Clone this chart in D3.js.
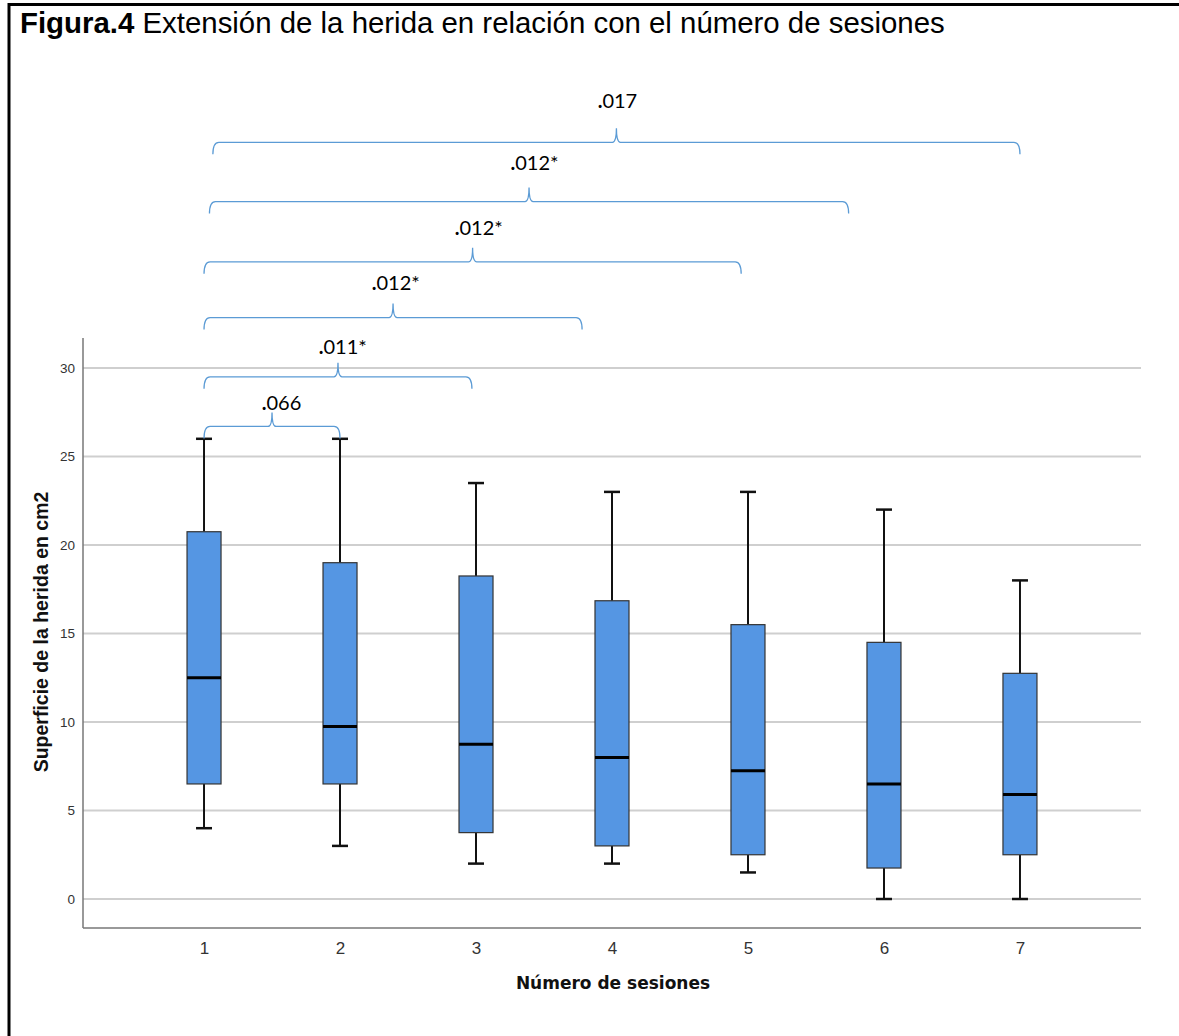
<!DOCTYPE html>
<html>
<head>
<meta charset="utf-8">
<script src="https://cdn.jsdelivr.net/npm/d3@7"></script>
<style>
  body { margin: 0; background: #fff; }
  svg { display: block; }
</style>
</head>
<body>
<div id="chart"></div>
<script>
// Data
const sessions = ["1", "2", "3", "4", "5", "6", "7"];
const whiskerLow = [4, 3, 2, 2, 1.5, 0, 0];
const q1 = [6.5, 6.5, 3.75, 3, 2.5, 1.75, 2.5];
const median = [12.5, 9.75, 8.75, 8, 7.25, 6.5, 5.9];
const q3 = [20.75, 19, 18.25, 16.85, 15.5, 14.5, 12.75];
const whiskerHigh = [26, 26, 23.5, 23, 23, 22, 18];
const yTicks = [0, 5, 10, 15, 20, 25, 30];

// Pairwise comparison brackets (start/end in session units, levels in cm2 units)
const bracketFrom = [1, 1, 1, 1, 1.04, 1.065];
const bracketTo = [2, 2.97, 3.78, 4.95, 5.74, 7];
const bracketLevel = [26.7, 29.5, 32.85, 36.0, 39.4, 42.75];
const bracketLabelAt = [1.57, 2.02, 2.41, 3.02, 3.43, 4.04];
const bracketLabelLevel = [27.6, 30.8, 34.4, 37.5, 41.2, 44.7];
const bracketLabels = [".066", ".011*", ".012*", ".012*", ".012*", ".017"];

const width = 1179, height = 1036;
const plot = { left: 83, right: 1141, top: 338, bottom: 928 };

const svg = d3.select("#chart").append("svg")
  .attr("width", width)
  .attr("height", height);

// Frame (left and top rules of the figure box)
svg.append("line").attr("x1", 9).attr("x2", 9).attr("y1", 3).attr("y2", height)
  .attr("stroke", "#000").attr("stroke-width", 3);
svg.append("line").attr("x1", 8).attr("x2", width).attr("y1", 4.5).attr("y2", 4.5)
  .attr("stroke", "#000").attr("stroke-width", 3);

// Title
const title = svg.append("text")
  .attr("x", 20).attr("y", 33)
  .style("font-family", "Liberation Sans, Arial, sans-serif")
  .style("font-size", "29.4px")
  .attr("fill", "#000");
title.append("tspan").style("font-weight", "bold").text("Figura.4");
title.append("tspan").text(" Extensión de la herida en relación con el número de sesiones");

// Scales
const x = d3.scalePoint()
  .domain(sessions)
  .range([plot.left, plot.right])
  .padding(0.89);

const xNum = d3.scaleLinear()
  .domain([1, 7])
  .range([x("1"), x("7")]);

const y = d3.scaleLinear()
  .domain([0, 30])
  .range([899, 368]);

// Gridlines
svg.append("g")
  .selectAll("line")
  .data(yTicks)
  .join("line")
  .attr("x1", plot.left).attr("x2", plot.right)
  .attr("y1", d => y(d)).attr("y2", d => y(d))
  .attr("stroke", "#cfcfcf")
  .attr("stroke-width", 2);

// Y axis
const yAxis = svg.append("g")
  .attr("transform", `translate(${plot.left},0)`)
  .call(d3.axisLeft(y).tickValues(yTicks).tickSize(0).tickPadding(8));
yAxis.select(".domain").remove();
yAxis.selectAll("text")
  .style("font-family", "Liberation Sans, Arial, sans-serif")
  .style("font-size", "13.5px")
  .attr("fill", "#333");

svg.append("line")
  .attr("x1", plot.left).attr("x2", plot.left)
  .attr("y1", plot.top).attr("y2", plot.bottom)
  .attr("stroke", "#777").attr("stroke-width", 1.5);

// X axis
const xAxis = svg.append("g")
  .attr("transform", `translate(0,${plot.bottom})`)
  .call(d3.axisBottom(x).tickSize(0).tickPadding(14));
xAxis.select(".domain").remove();
xAxis.selectAll("text")
  .style("font-family", "Liberation Sans, Arial, sans-serif")
  .style("font-size", "17px")
  .attr("fill", "#333");

svg.append("line")
  .attr("x1", plot.left).attr("x2", plot.right)
  .attr("y1", plot.bottom).attr("y2", plot.bottom)
  .attr("stroke", "#777").attr("stroke-width", 1.5);

// Axis titles
svg.append("text")
  .attr("transform", `translate(48,632) rotate(-90)`)
  .attr("text-anchor", "middle")
  .style("font-family", "Liberation Sans, Arial, sans-serif")
  .style("font-size", "19.5px")
  .style("font-weight", "bold")
  .attr("fill", "#111")
  .text("Superficie de la herida en cm2");

svg.append("text")
  .attr("x", 613).attr("y", 989)
  .attr("text-anchor", "middle")
  .style("font-family", "DejaVu Sans, sans-serif")
  .style("font-size", "17px")
  .style("font-weight", "bold")
  .attr("fill", "#111")
  .text("Número de sesiones");

// Boxes
const boxW = 34, capW = 16;
const boxes = svg.append("g")
  .selectAll("g")
  .data(sessions.map((s, i) => ({ s, lo: whiskerLow[i], q1: q1[i], med: median[i], q3: q3[i], hi: whiskerHigh[i] })))
  .join("g")
  .attr("transform", d => `translate(${x(d.s)},0)`);

boxes.append("line")
  .attr("y1", d => y(d.hi)).attr("y2", d => y(d.q3))
  .attr("stroke", "#111").attr("stroke-width", 2);
boxes.append("line")
  .attr("y1", d => y(d.q1)).attr("y2", d => y(d.lo))
  .attr("stroke", "#111").attr("stroke-width", 2);
boxes.append("line")
  .attr("x1", -capW / 2).attr("x2", capW / 2)
  .attr("y1", d => y(d.hi)).attr("y2", d => y(d.hi))
  .attr("stroke", "#111").attr("stroke-width", 2.5);
boxes.append("line")
  .attr("x1", -capW / 2).attr("x2", capW / 2)
  .attr("y1", d => y(d.lo)).attr("y2", d => y(d.lo))
  .attr("stroke", "#111").attr("stroke-width", 2.5);
boxes.append("rect")
  .attr("x", -boxW / 2).attr("width", boxW)
  .attr("y", d => y(d.q3))
  .attr("height", d => y(d.q1) - y(d.q3))
  .attr("fill", "#5596e3")
  .attr("stroke", "#333")
  .attr("stroke-width", 1.2);
boxes.append("line")
  .attr("x1", -boxW / 2).attr("x2", boxW / 2)
  .attr("y1", d => y(d.med)).attr("y2", d => y(d.med))
  .attr("stroke", "#000").attr("stroke-width", 3);

// Curly brackets with p-values
const drop = 12, peak = 14, r = 6;
function bracePath(x0, x1, yh) {
  const xm = (x0 + x1) / 2;
  return `M${x0},${yh + drop} Q${x0},${yh} ${x0 + r},${yh} L${xm - 4},${yh} ` +
    `Q${xm},${yh} ${xm},${yh - peak} Q${xm},${yh} ${xm + 4},${yh} ` +
    `L${x1 - r},${yh} Q${x1},${yh} ${x1},${yh + drop}`;
}

const brackets = svg.append("g")
  .selectAll("g")
  .data(bracketLabels.map((label, i) => ({
    label, from: bracketFrom[i], to: bracketTo[i], level: bracketLevel[i],
    at: bracketLabelAt[i], labelLevel: bracketLabelLevel[i]
  })))
  .join("g");

brackets.append("path")
  .attr("d", d => bracePath(xNum(d.from), xNum(d.to), y(d.level)))
  .attr("fill", "none")
  .attr("stroke", "#5b9bd5")
  .attr("stroke-width", 1.3);

const lbl = brackets.append("text")
  .attr("x", d => xNum(d.at))
  .attr("y", d => y(d.labelLevel))
  .attr("text-anchor", "middle")
  .style("font-family", "Lato, sans-serif")
  .style("font-size", "20px")
  .attr("fill", "#000");
lbl.append("tspan").style("font-weight", "bold").text(".");
lbl.append("tspan").text(d => d.label.slice(1));
</script>
</body>
</html>
